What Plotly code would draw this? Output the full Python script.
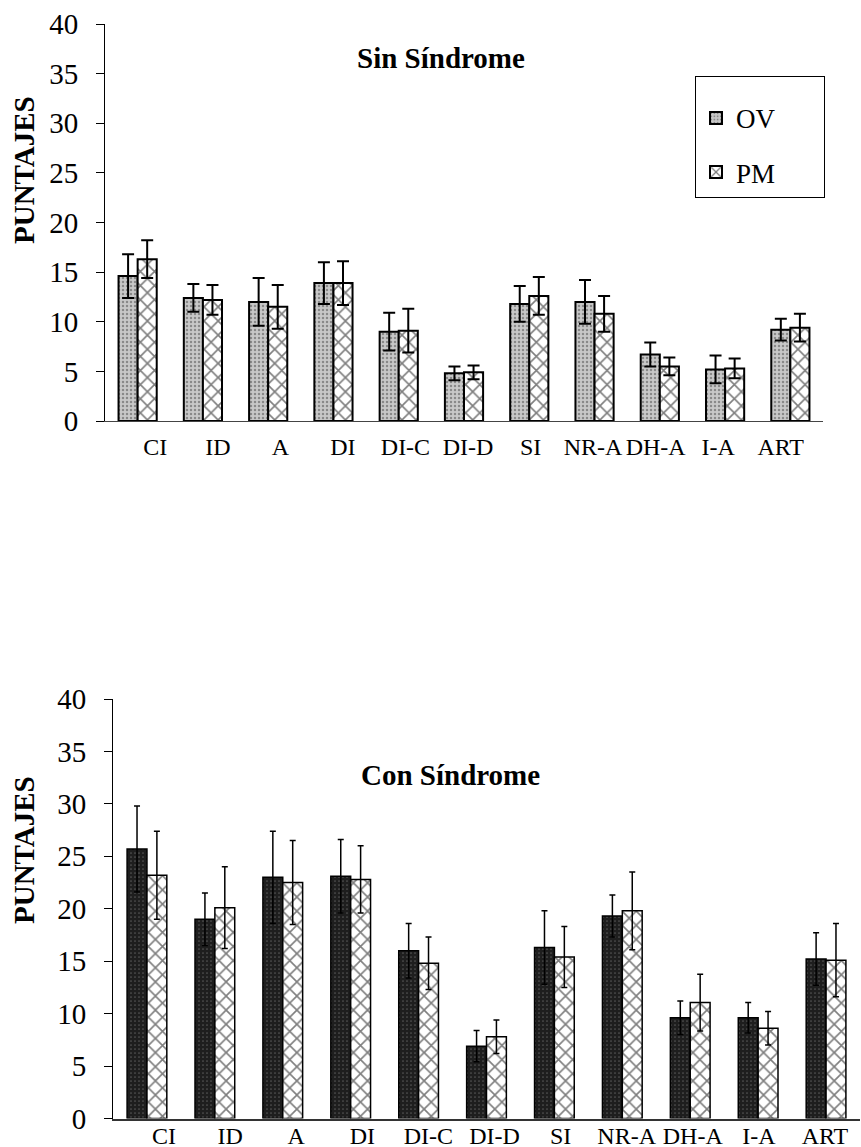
import plotly.graph_objects as go

categories = ["CI", "ID", "A", "DI", "DI-C", "DI-D", "SI", "NR-A", "DH-A", "I-A", "ART"]
series_names = ["OV", "PM"]

sin_ov = [14.6, 12.4, 12.0, 13.9, 9.0, 4.8, 11.8, 12.0, 6.7, 5.2, 9.2]
sin_ov_sd = [2.2, 1.4, 2.4, 2.1, 1.9, 0.7, 1.8, 2.2, 1.2, 1.4, 1.1]
sin_pm = [16.3, 12.2, 11.5, 13.9, 9.1, 4.9, 12.6, 10.8, 5.5, 5.3, 9.4]
sin_pm_sd = [1.9, 1.5, 2.2, 2.2, 2.2, 0.7, 1.9, 1.8, 0.9, 1.0, 1.4]

con_ov = [25.7, 19.0, 23.0, 23.1, 16.0, 6.9, 16.3, 19.3, 9.6, 9.6, 15.2]
con_ov_sd = [4.1, 2.5, 4.4, 3.5, 2.6, 1.5, 3.5, 2.0, 1.6, 1.45, 2.5]
con_pm = [23.2, 20.1, 22.5, 22.8, 14.8, 7.8, 15.4, 19.8, 11.05, 8.6, 15.1]
con_pm_sd = [4.2, 3.9, 4.0, 3.2, 2.5, 1.6, 2.9, 3.7, 2.7, 1.6, 3.5]

y_ticks = [0, 5, 10, 15, 20, 25, 30, 35, 40]
titles = ["Sin Síndrome", "Con Síndrome"]
y_title = "PUNTAJES"

SERIF = "Liberation Serif, Times New Roman, serif"
W, H = 861, 1147

fig = go.Figure()

# top chart (Sin Síndrome)
fig.add_trace(go.Bar(
    x=categories, y=sin_ov, name=series_names[0], xaxis="x", yaxis="y",
    marker=dict(color="#c4c4c4", line=dict(color="black", width=2),
                pattern=dict(shape=".", fgcolor="#4a4a4a", bgcolor="#c8c8c8", size=4, solidity=0.3)),
    error_y=dict(type="data", array=sin_ov_sd, color="black", thickness=2, width=6),
    legendgroup="ov"))
fig.add_trace(go.Bar(
    x=categories, y=sin_pm, name=series_names[1], xaxis="x", yaxis="y",
    marker=dict(color="white", line=dict(color="black", width=2),
                pattern=dict(shape="x", fgcolor="black", bgcolor="white", size=10, solidity=0.3)),
    error_y=dict(type="data", array=sin_pm_sd, color="black", thickness=2, width=6),
    legendgroup="pm"))

# bottom chart (Con Síndrome)
fig.add_trace(go.Bar(
    x=categories, y=con_ov, name=series_names[0], xaxis="x2", yaxis="y2", showlegend=False,
    marker=dict(color="#1e1e1e", line=dict(color="black", width=1.5),
                pattern=dict(shape=".", fgcolor="#8a8a8a", bgcolor="#1e1e1e", size=4, solidity=0.15)),
    error_y=dict(type="data", array=con_ov_sd, color="black", thickness=1.5, width=3)))
fig.add_trace(go.Bar(
    x=categories, y=con_pm, name=series_names[1], xaxis="x2", yaxis="y2", showlegend=False,
    marker=dict(color="white", line=dict(color="black", width=1.5),
                pattern=dict(shape="x", fgcolor="black", bgcolor="white", size=10, solidity=0.3)),
    error_y=dict(type="data", array=con_pm_sd, color="black", thickness=1.5, width=3)))

# invisible helpers carrying the category tick labels
for xa, ya in (("x3", "y"), ("x4", "y2")):
    fig.add_trace(go.Scatter(x=categories, y=[0] * len(categories), xaxis=xa, yaxis=ya,
                             mode="markers", marker=dict(opacity=0), showlegend=False,
                             hoverinfo="skip"))

def px_x(a, b):
    return [a / W, b / W]

def px_y(top, bottom):
    return [(H - bottom) / H, (H - top) / H]

rng = [-0.5, len(categories) - 0.5]
yaxis_common = dict(range=[0, 40], tickvals=y_ticks, showline=True, linecolor="black", linewidth=1,
                    ticks="outside", ticklen=8, tickwidth=1, tickcolor="black", showgrid=False,
                    zeroline=False, tickfont=dict(family=SERIF, size=29, color="black"),
                    ticklabelstandoff=12)
label_axis = dict(type="category", categoryorder="array", categoryarray=categories, range=rng,
                  showline=False, ticks="", showgrid=False, zeroline=False, tickangle=0,
                  tickfont=dict(family=SERIF, size=24, color="black"), fixedrange=True)

def ann(text, x, y, size, angle=0):
    return dict(text="<b>%s</b>" % text, x=x / W, y=(H - y) / H, xref="paper", yref="paper",
                xanchor="center", yanchor="middle", showarrow=False, textangle=angle,
                font=dict(family=SERIF, size=size, color="black"))

fig.update_layout(
    width=W, height=H, margin=dict(l=0, r=0, t=0, b=0, autoexpand=False),
    paper_bgcolor="white", plot_bgcolor="rgba(0,0,0,0)",
    barmode="group", bargap=0.415, bargroupgap=0,
    font=dict(family=SERIF, color="black"),
    xaxis=dict(domain=px_x(105, 823), anchor="y", type="category", categoryorder="array",
               categoryarray=categories, range=rng, showticklabels=False, showline=True,
               linecolor="#444", linewidth=1, ticks="", showgrid=False),
    yaxis=dict(domain=px_y(24, 421), anchor="x", **yaxis_common),
    xaxis2=dict(domain=px_x(113, 860), anchor="y2", type="category", categoryorder="array",
                categoryarray=categories, range=rng, showticklabels=False, showline=True,
                linecolor="#333", linewidth=1.5, ticks="", showgrid=False),
    yaxis2=dict(domain=px_y(699, 1118.5), anchor="x2", **yaxis_common),
    xaxis3=dict(domain=px_x(124, 812), anchor="y", ticklabelstandoff=9, **label_axis),
    xaxis4=dict(domain=px_x(131, 858), anchor="y2", ticklabelstandoff=0, **label_axis),
    legend=dict(x=695 / W, y=(H - 76) / H, xanchor="left", yanchor="top",
                bordercolor="black", borderwidth=1, bgcolor="white",
                font=dict(family=SERIF, size=27, color="black"),
                title=dict(text="\u00a0" * 38, font=dict(family=SERIF, size=13)),
                traceorder="grouped", tracegroupgap=16, itemwidth=30),
    annotations=[
        ann(titles[0], 441, 58, 29),
        ann(titles[1], 450, 775, 29),
        ann(y_title, 24, 170, 29, -90),
        ann(y_title, 24, 850, 29, -90),
    ],
)

fig.write_html("out.html")
